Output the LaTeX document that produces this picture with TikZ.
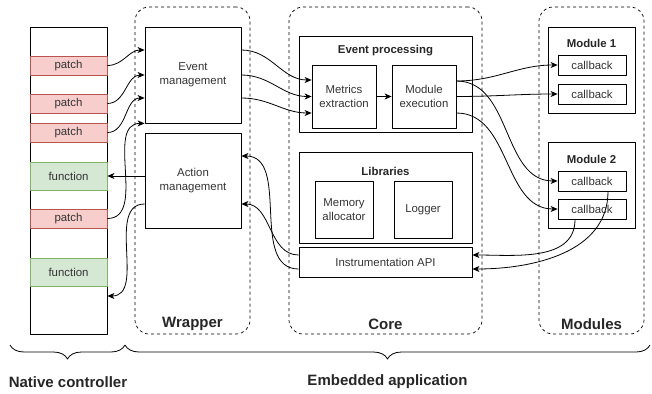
\documentclass[tikz,border=0pt]{standalone}
\usepackage{fontspec}
\setmainfont{Liberation Sans}
\usetikzlibrary{arrows.meta,decorations.pathreplacing}

\definecolor{patchfill}{HTML}{F8CECC}
\definecolor{patchline}{HTML}{B85450}
\definecolor{funcfill}{HTML}{D5E8D4}
\definecolor{funcline}{HTML}{82B366}

\begin{document}
\begin{tikzpicture}[x=1pt, y=-1pt, font=\fontsize{11.4}{14}\selectfont, line join=round,
	>={Stealth[length=7pt,width=6pt,inset=2pt]},
	box/.style={draw, line width=0.8pt, inner sep=0pt, align=center, text=black!80},
	patch/.style={box, fill=patchfill, draw=patchline, minimum width=77, minimum height=19},
	func/.style={box, fill=funcfill, draw=funcline, minimum width=77, minimum height=28},
	cbox/.style={box, minimum width=68, minimum height=20},
	group/.style={draw, line width=0.7pt, dash pattern=on 3pt off 3pt, rounded corners=14pt, inner sep=0pt},
	ttl/.style={font=\fontsize{11.4}{14}\selectfont\bfseries, text=black!85},
	bigttl/.style={font=\fontsize{15}{18}\selectfont\bfseries, text=black!85},
	edge/.style={->, line width=0.8pt}]
	\useasboundingbox (0,0) rectangle (652,393);
	% dashed groups
	\node[group, minimum width=115, minimum height=327] (wrap) at (192.5,170.5) {};
	\node[group, minimum width=193, minimum height=327] (core) at (385.5,170.5) {};
	\node[group, minimum width=105, minimum height=327] (mods) at (591.5,170.5) {};
	\node[bigttl] (wraptxt) at (192.5,324) {Wrapper};
	\node[bigttl] (coretxt) at (385.5,324) {Core};
	\node[bigttl] (modstxt) at (591.5,324) {Modules};
	% native controller
	\node[box, minimum width=77, minimum height=307] (nc) at (68.5,180.5) {};
	\node[patch] (p1) at (68.5,65.5) {patch};
	\node[patch] (p2) at (68.5,103.5) {patch};
	\node[patch] (p3) at (68.5,132.5) {patch};
	\node[func] (fn1) at (68.5,176) {function};
	\node[patch] (p4) at (68.5,218.5) {patch};
	\node[func] (fn2) at (68.5,272) {function};
	% wrapper
	\node[box, minimum width=96, minimum height=96] (evt) at (193,75) {Event\\management};
	\node[box, minimum width=96, minimum height=95] (act) at (193,180.5) {Action\\management};
	% core
	\node[box, minimum width=173, minimum height=96] (ep) at (385.5,84) {};
	\node[ttl] (eptxt) at (385.5,51) {Event processing};
	\node[box, minimum width=64, minimum height=63] (met) at (344,96.5) {Metrics\\extraction};
	\node[box, minimum width=64, minimum height=63] (mex) at (424,96.5) {Module\\execution};
	\node[box, minimum width=173, minimum height=91] (lib) at (385.5,197.5) {};
	\node[ttl] (libtxt) at (385.5,171) {Libraries};
	\node[box, minimum width=58, minimum height=57] (mem) at (344,209.5) {Memory\\allocator};
	\node[box, minimum width=58, minimum height=57] (log) at (423,209.5) {Logger};
	\node[box, minimum width=173, minimum height=30] (api) at (385.5,262) {Instrumentation API};
	% modules
	\node[box, minimum width=87, minimum height=86] (m1) at (591.5,70) {};
	\node[ttl] (m1txt) at (591.5,43) {Module 1};
	\node[cbox] (cb1) at (592,65) {callback};
	\node[cbox] (cb2) at (592,94) {callback};
	\node[box, minimum width=87, minimum height=86] (m2) at (591.5,185) {};
	\node[ttl] (m2txt) at (591.5,159) {Module 2};
	\node[cbox] (cb3) at (592,181) {callback};
	\node[cbox] (cb4) at (592,209) {callback};
	% native -> wrapper
	\draw[edge] (p1.east) to[out=0,in=180] ([yshift=25]evt.west);
	\draw[edge] (p2.east) to[out=0,in=180] (evt.west);
	\draw[edge] (p3.east) to[out=0,in=180] ([yshift=-23]evt.west);
	\draw[edge] (p4.east) to[out=0,in=180] (evt.south west);
	\draw[edge] (act.west |- fn1.east) -- (fn1.east);
	\draw[edge] ([yshift=-23.5]act.west) to[out=180,in=0] ([yshift=-115.5]nc.east);
	% wrapper -> core
	\draw[edge] ([yshift=25]evt.east) to[out=0,in=180] ([yshift=16.5]met.west);
	\draw[edge] (evt.east) to[out=0,in=180] (met.west);
	\draw[edge] ([yshift=-23]evt.east) to[out=0,in=180] ([yshift=-16.5]met.west);
	\draw[edge] (met.east) -- (mex.west);
	% core -> modules
	\draw[edge] ([yshift=15.5]mex.east) to[out=0,in=180] (cb1.west);
	\draw[edge] ([yshift=15.5]mex.east) to[out=0,in=180] (cb3.west);
	\draw[edge] (mex.east) to[out=0,in=180] (cb2.west);
	\draw[edge] ([yshift=-16.5]mex.east) to[out=0,in=180] (cb4.west);
	% modules -> core -> wrapper
	\draw[edge] ([xshift=-17]cb4.south) to[out=-90,in=0] ([yshift=7]api.east);
	\draw[edge] ([xshift=16]cb3.south) to[out=-90,in=0] ([yshift=-7]api.east);
	\draw[edge] ([yshift=7]api.west) to[out=180,in=0] ([yshift=-23.5]act.east);
	\draw[edge] ([yshift=-7]api.west) to[out=180,in=0] ([yshift=24.5]act.east);
	% braces
	\coordinate (nca) at (10,345);
	\coordinate (ncb) at (125,345);
	\coordinate (ema) at (125,345);
	\coordinate (emb) at (650,345);
	\draw[line width=0.8pt, decorate, decoration={brace, mirror, amplitude=14pt}] (nca) -- (ncb);
	\draw[line width=0.8pt, decorate, decoration={brace, mirror, amplitude=14pt}] (ema) -- (emb);
	\node[ttl, font=\fontsize{15}{18}\selectfont\bfseries] (nctxt) at (68,382) {Native controller};
	\node[ttl, font=\fontsize{15}{18}\selectfont\bfseries] (emtxt) at (387.5,382) {Embedded application};
\end{tikzpicture}
\end{document}
